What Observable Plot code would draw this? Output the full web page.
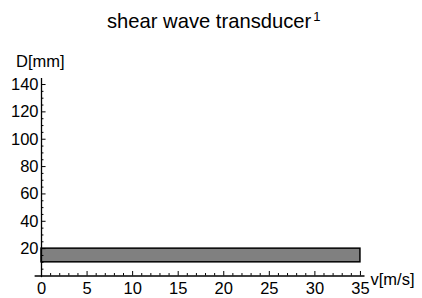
<!DOCTYPE html>
<html>
<head>
<meta charset="utf-8">
<script src="https://cdn.jsdelivr.net/npm/d3@7"></script>
<script src="https://cdn.jsdelivr.net/npm/@observablehq/plot@0.6"></script>
<style>
  body { margin: 0; background: #fff; font-family: "Liberation Sans", Arial, sans-serif; }
  #wrap { width: 422px; height: 298px; position: relative; overflow: hidden; }
  #title { position: relative; height: 40px; width: 422px; font-size: 20.2px; color: #000; }
  #title span.main { position: absolute; left: 107px; top: 9.6px; line-height: 22px; white-space: nowrap; }
  #title sup { font-size: 13px; position: relative; top: -7px; vertical-align: baseline; line-height: 13px; margin-left: 2px; }
  svg { display: block; overflow: visible; }
</style>
</head>
<body>
<div id="wrap">
  <div id="title"><span class="main">shear wave transducer<sup>1</sup></span></div>
  <div id="chart"></div>
</div>
<script>
// Data
const speedStart = [0];
const speedEnd = [35];
const diameterLow = [10];
const diameterHigh = [20];

// Tick labels
const xTicks = [0, 5, 10, 15, 20, 25, 30, 35];
const yTicks = [20, 40, 60, 80, 100, 120, 140];
const xMinorTicks = [1,2,3,4,6,7,8,9,11,12,13,14,16,17,18,19,21,22,23,24,26,27,28,29,31,32,33,34];
const yMinorTicks = [5,10,15,25,30,35,45,50,55,65,70,75,85,90,95,105,110,115,125,130,135];
const xLabel = "v[m/s]";
const yLabel = "D[mm]";

const bars = speedStart.map((s, i) => ({x1: s, x2: speedEnd[i], y1: diameterLow[i], y2: diameterHigh[i]}));

const font = "Liberation Sans, Arial, sans-serif";

const chart = Plot.plot({
  width: 422,
  height: 258,
  marginTop: 38,
  marginBottom: 22.5,
  marginLeft: 41,
  marginRight: 57.5,
  style: { fontFamily: font, fontSize: "16.5px", background: "white" },
  x: { domain: [0, 35.5], axis: null },
  y: { domain: [0, 144.4], axis: null },
  marks: [
    Plot.rect(bars, { x1: "x1", x2: "x2", y1: "y1", y2: "y2", fill: "#808080", stroke: "black", strokeWidth: 1.5 }),
    // axis lines
    Plot.ruleY([0], { x1: -0.7, x2: 35.5, stroke: "black", strokeWidth: 1.3 }),
    Plot.ruleX([0], { y1: -1.2, y2: 144.4, stroke: "black", strokeWidth: 1.3 }),
    // major ticks (pointing inward)
    Plot.ruleX(xTicks, { x: d => d, y1: 0, y2: 3.3, stroke: "black", strokeWidth: 1 }),
    Plot.ruleY(yTicks, { y: d => d, x1: 0, x2: 0.5, stroke: "black", strokeWidth: 1 }),
    // minor ticks
    Plot.ruleX(xMinorTicks, { x: d => d, y1: 0, y2: 1.8, stroke: "black", strokeWidth: 1 }),
    Plot.ruleY(yMinorTicks, { y: d => d, x1: 0, x2: 0.27, stroke: "black", strokeWidth: 1 }),
    // tick labels
    Plot.text(xTicks, { x: d => d, y: 0, text: d => String(d), lineAnchor: "top", dy: 6, fontSize: 16.5, fill: "black" }),
    Plot.text(yTicks, { x: 0, y: d => d, text: d => String(d), textAnchor: "end", dx: -3, fontSize: 16.5, fill: "black" }),
    // axis labels
    Plot.text([xLabel], { frameAnchor: "bottom-right", text: d => d, textAnchor: "start", lineAnchor: "bottom", dx: 5.5, dy: 8.5, fontSize: 16.5, fill: "black" }),
    Plot.text([yLabel], { frameAnchor: "top-left", text: d => d, textAnchor: "start", lineAnchor: "bottom", dx: -25.5, dy: -12, fontSize: 16.5, fill: "black" })
  ]
});
document.getElementById("chart").appendChild(chart);
</script>
</body>
</html>
